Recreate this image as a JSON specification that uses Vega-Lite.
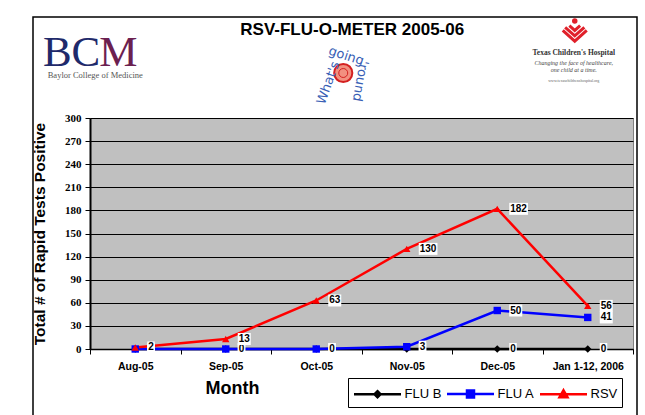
{
  "$schema": "https://vega.github.io/schema/vega-lite/v6.json",
  "width": 543,
  "height": 231,
  "autosize": "none",
  "padding": {"left": 90, "top": 118, "right": 12, "bottom": 66},
  "background": "white",
  "config": {
    "view": {"fill": "#c0c0c0", "stroke": "#808080", "strokeWidth": 1},
    "font": "Liberation Sans"
  },
  "datasets": {
    "counts": [
      {"month": "Aug-05", "series": "FLU B", "value": 0},
      {"month": "Sep-05", "series": "FLU B", "value": 0},
      {"month": "Oct-05", "series": "FLU B", "value": 0},
      {"month": "Nov-05", "series": "FLU B", "value": 0},
      {"month": "Dec-05", "series": "FLU B", "value": 0},
      {"month": "Jan 1-12, 2006", "series": "FLU B", "value": 0},
      {"month": "Aug-05", "series": "FLU A", "value": 0},
      {"month": "Sep-05", "series": "FLU A", "value": 0},
      {"month": "Oct-05", "series": "FLU A", "value": 0},
      {"month": "Nov-05", "series": "FLU A", "value": 3},
      {"month": "Dec-05", "series": "FLU A", "value": 50},
      {"month": "Jan 1-12, 2006", "series": "FLU A", "value": 41},
      {"month": "Aug-05", "series": "RSV", "value": 2},
      {"month": "Sep-05", "series": "RSV", "value": 13},
      {"month": "Oct-05", "series": "RSV", "value": 63},
      {"month": "Nov-05", "series": "RSV", "value": 130},
      {"month": "Dec-05", "series": "RSV", "value": 182},
      {"month": "Jan 1-12, 2006", "series": "RSV", "value": 56}
    ]
  },
  "data": {"name": "counts"},
  "encoding": {
    "x": {
      "field": "month", "type": "ordinal",
      "sort": ["Aug-05", "Sep-05", "Oct-05", "Nov-05", "Dec-05", "Jan 1-12, 2006"],
      "scale": {"type": "band", "paddingInner": 0, "paddingOuter": 0},
      "axis": {
        "title": "Month", "titleFontSize": 18, "titleFontWeight": "bold", "titleColor": "black",
        "titleX": 142, "titleY": 30, "titleBaseline": "top",
        "labelFontSize": 10.5, "labelFontWeight": "bold", "labelColor": "black", "labelAngle": 0,
        "labelPadding": 7,
        "tickBand": "extent", "tickSize": 5, "tickColor": "black",
        "domainColor": "black", "domainWidth": 1.5, "grid": false
      }
    },
    "y": {
      "field": "value", "type": "quantitative",
      "scale": {"domain": [0, 300], "nice": false, "zero": true},
      "axis": {
        "title": "Total # of Rapid Tests Positive", "titleFontSize": 15.5, "titleFontWeight": "bold", "titleColor": "black",
        "titlePadding": 17,
        "values": [0, 30, 60, 90, 120, 150, 180, 210, 240, 270, 300],
        "labelFontSize": 11, "labelFontWeight": "bold", "labelColor": "black", "labelFont": "Liberation Sans Narrow",
        "labelPadding": 4,
        "grid": true, "gridColor": "black", "gridOpacity": 1, "gridWidth": 1,
        "tickColor": "black", "tickSize": 5, "domainColor": "black", "domainWidth": 2
      }
    }
  },
  "layer": [
    {
      "transform": [{"filter": "datum.series === 'RSV' && datum.month === 'Oct-05'"}],
      "mark": {"type": "point", "shape": "M-1,-0.667L1,-0.667L1,0.667L-1,0.667Z", "filled": false, "stroke": "black", "strokeWidth": 1.5, "size": 364816, "opacity": 1, "xOffset": 18.75, "yOffset": -130.5, "clip": false},
      "encoding": {"y": {"datum": 0, "type": "quantitative"}}
    },
    {
      "mark": {"type": "line", "strokeWidth": 2.5},
      "encoding": {
        "color": {
          "field": "series", "type": "nominal",
          "scale": {"domain": ["FLU B", "FLU A", "RSV"], "range": ["black", "#0000ff", "#ff0000"]},
          "legend": {
            "orient": "none", "legendX": 258, "legendY": 260, "direction": "horizontal", "title": null,
            "strokeColor": "black", "fillColor": "white", "padding": 4.5,
            "labelFontSize": 13, "labelFont": "Liberation Sans", "labelColor": "black",
            "symbolSize": 400, "symbolStrokeWidth": 2.5, "labelOffset": 29, "columnPadding": 0,
            "encode": {
              "symbols": {
                "update": {
                  "shape": {"signal": "datum.value === 'FLU B' ? 'M-1,0L3.7,0M1.35,-0.3L1.65,0L1.35,0.3L1.05,0Z' : datum.value === 'FLU A' ? 'M-1,0L3.7,0M1.0,-0.35L1.7,-0.35L1.7,0.35L1.0,0.35Z' : 'M-1,0L3.7,0M1.35,-0.4L1.75,0.3L0.95,0.3Z'"},
                  "fill": {"scale": "color", "field": "value"},
                  "stroke": {"scale": "color", "field": "value"},
                  "strokeWidth": {"value": 2.5},
                  "opacity": {"value": 1}
                }
              }
            }
          }
        }
      }
    },
    {
      "mark": {"type": "point", "filled": true, "size": 55, "opacity": 1},
      "encoding": {
        "color": {"field": "series", "type": "nominal", "legend": null},
        "shape": {"field": "series", "type": "nominal", "scale": {"domain": ["FLU B", "FLU A", "RSV"], "range": ["diamond", "square", "triangle-up"]}, "legend": null}
      }
    },
    {
      "transform": [{"filter": "datum.series === 'FLU B'"}],
      "mark": {"type": "point", "filled": true, "fill": "white", "size": 400, "opacity": 1, "strokeWidth": 0},
      "encoding": {
        "shape": {"field": "value", "type": "nominal", "legend": null,
          "scale": {"domain": [0, 2, 3, 13, 41, 50, 56, 63, 130, 182],
            "range": ["M1.2,-0.6L1.95,-0.6L1.95,0.6L1.2,0.6Z", "M1.2,-0.6L1.95,-0.6L1.95,0.6L1.2,0.6Z", "M1.2,-0.6L1.95,-0.6L1.95,0.6L1.2,0.6Z", "M1.2,-0.6L2.5,-0.6L2.5,0.6L1.2,0.6Z", "M1.2,-0.6L2.5,-0.6L2.5,0.6L1.2,0.6Z", "M1.2,-0.6L2.5,-0.6L2.5,0.6L1.2,0.6Z", "M1.2,-0.6L2.5,-0.6L2.5,0.6L1.2,0.6Z", "M1.2,-0.6L2.5,-0.6L2.5,0.6L1.2,0.6Z", "M1.2,-0.6L3.07,-0.6L3.07,0.6L1.2,0.6Z", "M1.2,-0.6L3.07,-0.6L3.07,0.6L1.2,0.6Z"]}}
      }
    },
    {
      "transform": [{"filter": "datum.series === 'FLU B'"}],
      "mark": {"type": "text", "align": "left", "baseline": "middle", "dx": 13, "fontSize": 10, "fontWeight": "bold", "color": "black"},
      "encoding": {"text": {"field": "value", "type": "quantitative"}}
    },
    {
      "transform": [{"filter": "datum.series === 'FLU A'"}],
      "mark": {"type": "point", "filled": true, "fill": "white", "size": 400, "opacity": 1, "strokeWidth": 0},
      "encoding": {
        "shape": {"field": "value", "type": "nominal", "legend": null,
          "scale": {"domain": [0, 2, 3, 13, 41, 50, 56, 63, 130, 182],
            "range": ["M1.2,-0.6L1.95,-0.6L1.95,0.6L1.2,0.6Z", "M1.2,-0.6L1.95,-0.6L1.95,0.6L1.2,0.6Z", "M1.2,-0.6L1.95,-0.6L1.95,0.6L1.2,0.6Z", "M1.2,-0.6L2.5,-0.6L2.5,0.6L1.2,0.6Z", "M1.2,-0.6L2.5,-0.6L2.5,0.6L1.2,0.6Z", "M1.2,-0.6L2.5,-0.6L2.5,0.6L1.2,0.6Z", "M1.2,-0.6L2.5,-0.6L2.5,0.6L1.2,0.6Z", "M1.2,-0.6L2.5,-0.6L2.5,0.6L1.2,0.6Z", "M1.2,-0.6L3.07,-0.6L3.07,0.6L1.2,0.6Z", "M1.2,-0.6L3.07,-0.6L3.07,0.6L1.2,0.6Z"]}}
      }
    },
    {
      "transform": [{"filter": "datum.series === 'FLU A'"}],
      "mark": {"type": "text", "align": "left", "baseline": "middle", "dx": 13, "fontSize": 10, "fontWeight": "bold", "color": "black"},
      "encoding": {"text": {"field": "value", "type": "quantitative"}}
    },
    {
      "transform": [{"filter": "datum.series === 'RSV'"}],
      "mark": {"type": "point", "filled": true, "fill": "white", "size": 400, "opacity": 1, "strokeWidth": 0},
      "encoding": {
        "shape": {"field": "value", "type": "nominal", "legend": null,
          "scale": {"domain": [0, 2, 3, 13, 41, 50, 56, 63, 130, 182],
            "range": ["M1.2,-0.6L1.95,-0.6L1.95,0.6L1.2,0.6Z", "M1.2,-0.6L1.95,-0.6L1.95,0.6L1.2,0.6Z", "M1.2,-0.6L1.95,-0.6L1.95,0.6L1.2,0.6Z", "M1.2,-0.6L2.5,-0.6L2.5,0.6L1.2,0.6Z", "M1.2,-0.6L2.5,-0.6L2.5,0.6L1.2,0.6Z", "M1.2,-0.6L2.5,-0.6L2.5,0.6L1.2,0.6Z", "M1.2,-0.6L2.5,-0.6L2.5,0.6L1.2,0.6Z", "M1.2,-0.6L2.5,-0.6L2.5,0.6L1.2,0.6Z", "M1.2,-0.6L3.07,-0.6L3.07,0.6L1.2,0.6Z", "M1.2,-0.6L3.07,-0.6L3.07,0.6L1.2,0.6Z"]}}
      }
    },
    {
      "transform": [{"filter": "datum.series === 'RSV'"}],
      "mark": {"type": "text", "align": "left", "baseline": "middle", "dx": 13, "fontSize": 10, "fontWeight": "bold", "color": "black"},
      "encoding": {"text": {"field": "value", "type": "quantitative"}}
    },
    {
      "transform": [{"filter": "datum.series === 'RSV' && datum.month === 'Oct-05'"}],
      "mark": {"type": "text", "text": "RSV-FLU-O-METER 2005-06", "font": "Liberation Sans", "fontSize": 17, "fontWeight": "bold", "color": "black", "baseline": "middle", "align": "center", "xOffset": 36, "yOffset": -319, "clip": false},
      "encoding": {"y": {"datum": 0, "type": "quantitative"}}
    },
    {
      "transform": [{"filter": "datum.series === 'RSV' && datum.month === 'Aug-05'"}],
      "mark": {"type": "text", "text": "BC", "font": "Liberation Serif", "fontSize": 43, "color": "#1f2a6b", "baseline": "middle", "align": "right", "xOffset": -35, "yOffset": -296, "clip": false},
      "encoding": {"y": {"datum": 0, "type": "quantitative"}}
    },
    {
      "transform": [{"filter": "datum.series === 'RSV' && datum.month === 'Aug-05'"}],
      "mark": {"type": "text", "text": "M", "font": "Liberation Serif", "fontSize": 43, "color": "#6b2050", "baseline": "middle", "align": "left", "xOffset": -36, "yOffset": -296, "clip": false},
      "encoding": {"y": {"datum": 0, "type": "quantitative"}}
    },
    {
      "transform": [{"filter": "datum.series === 'RSV' && datum.month === 'Aug-05'"}],
      "mark": {"type": "text", "text": "Baylor College of Medicine", "font": "Liberation Serif", "fontSize": 8.5, "color": "#555555", "baseline": "middle", "align": "center", "xOffset": -40, "yOffset": -274, "clip": false},
      "encoding": {"y": {"datum": 0, "type": "quantitative"}}
    },
    {
      "transform": [{"filter": "datum.series === 'RSV' && datum.month === 'Oct-05'"}],
      "mark": {"type": "point", "shape": "circle", "filled": true, "fill": "#f29080", "stroke": "#d42020", "strokeWidth": 2, "size": 330, "opacity": 1, "xOffset": 27, "yOffset": -276, "clip": false},
      "encoding": {"y": {"datum": 0, "type": "quantitative"}}
    },
    {
      "transform": [{"filter": "datum.series === 'RSV' && datum.month === 'Oct-05'"}],
      "mark": {"type": "point", "shape": "circle", "filled": false, "stroke": "#d42020", "strokeWidth": 1, "size": 80, "opacity": 1, "xOffset": 27, "yOffset": -276, "clip": false},
      "encoding": {"y": {"datum": 0, "type": "quantitative"}}
    },
    {
      "transform": [{"filter": "datum.series === 'RSV' && datum.month === 'Oct-05'"}],
      "mark": {"type": "text", "text": "going", "font": "DejaVu Sans", "fontSize": 13, "color": "#3a5fb5", "baseline": "middle", "align": "center", "xOffset": 30, "yOffset": -293, "angle": 18, "clip": false},
      "encoding": {"y": {"datum": 0, "type": "quantitative"}}
    },
    {
      "transform": [{"filter": "datum.series === 'RSV' && datum.month === 'Oct-05'"}],
      "mark": {"type": "text", "text": "What's", "font": "DejaVu Sans", "fontSize": 13, "color": "#3a5fb5", "baseline": "middle", "align": "center", "xOffset": 12, "yOffset": -266, "angle": 290, "clip": false},
      "encoding": {"y": {"datum": 0, "type": "quantitative"}}
    },
    {
      "transform": [{"filter": "datum.series === 'RSV' && datum.month === 'Oct-05'"}],
      "mark": {"type": "text", "text": "'round", "font": "DejaVu Sans", "fontSize": 13, "color": "#3a5fb5", "baseline": "middle", "align": "center", "xOffset": 44, "yOffset": -268, "angle": 100, "clip": false},
      "encoding": {"y": {"datum": 0, "type": "quantitative"}}
    },
    {
      "transform": [{"filter": "datum.series === 'RSV' && datum.month === 'Jan 1-12, 2006'"}],
      "mark": {"type": "point", "shape": "M-0.45,-0.45L0,-0.05L0.45,-0.45M-0.8,-0.3L0,0.4L0.8,-0.3M-1,-0.05L0,0.85L1,-0.05", "filled": false, "stroke": "#e0202a", "strokeWidth": 3, "size": 576, "opacity": 1, "xOffset": -13, "yOffset": -318, "clip": false},
      "encoding": {"y": {"datum": 0, "type": "quantitative"}}
    },
    {
      "transform": [{"filter": "datum.series === 'RSV' && datum.month === 'Jan 1-12, 2006'"}],
      "mark": {"type": "point", "shape": "circle", "filled": true, "fill": "#e0202a", "size": 30, "opacity": 1, "xOffset": -13, "yOffset": -328, "clip": false},
      "encoding": {"y": {"datum": 0, "type": "quantitative"}}
    },
    {
      "transform": [{"filter": "datum.series === 'RSV' && datum.month === 'Jan 1-12, 2006'"}],
      "mark": {"type": "text", "text": "Texas Children's Hospital", "font": "Liberation Serif", "fontSize": 7.5, "fontWeight": "bold", "color": "#333333", "baseline": "middle", "align": "center", "xOffset": -14, "yOffset": -296, "clip": false},
      "encoding": {"y": {"datum": 0, "type": "quantitative"}}
    },
    {
      "transform": [{"filter": "datum.series === 'RSV' && datum.month === 'Jan 1-12, 2006'"}],
      "mark": {"type": "text", "text": "Changing the face of healthcare,", "font": "Liberation Serif", "fontSize": 6, "fontStyle": "italic", "color": "#444444", "baseline": "middle", "align": "center", "xOffset": -14, "yOffset": -286, "clip": false},
      "encoding": {"y": {"datum": 0, "type": "quantitative"}}
    },
    {
      "transform": [{"filter": "datum.series === 'RSV' && datum.month === 'Jan 1-12, 2006'"}],
      "mark": {"type": "text", "text": "one child at a time.", "font": "Liberation Serif", "fontSize": 6, "fontStyle": "italic", "color": "#444444", "baseline": "middle", "align": "center", "xOffset": -14, "yOffset": -279, "clip": false},
      "encoding": {"y": {"datum": 0, "type": "quantitative"}}
    },
    {
      "transform": [{"filter": "datum.series === 'RSV' && datum.month === 'Jan 1-12, 2006'"}],
      "mark": {"type": "text", "text": "www.texaschildrenshospital.org", "font": "Liberation Serif", "fontSize": 4, "color": "#666666", "baseline": "middle", "align": "center", "xOffset": -14, "yOffset": -268, "clip": false},
      "encoding": {"y": {"datum": 0, "type": "quantitative"}}
    }
  ],
  "resolve": {"scale": {"shape": "independent"}, "legend": {"shape": "independent"}}
}
